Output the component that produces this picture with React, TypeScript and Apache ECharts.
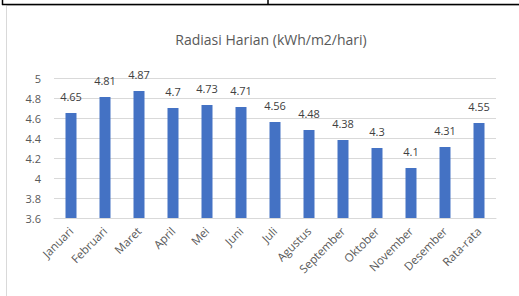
import React, { useEffect, useRef } from "react";
import * as echarts from "echarts";

const categories = ["Januari", "Februari", "Maret", "April", "Mei", "Juni", "Juli", "Agustus", "September", "Oktober", "November", "Desember", "Rata-rata"];
const radiasi = [4.65, 4.81, 4.87, 4.7, 4.73, 4.71, 4.56, 4.48, 4.38, 4.3, 4.1, 4.31, 4.55];
const chartTitle = "Radiasi Harian (kWh/m2/hari)";

export default function App() {
  const ref = useRef<HTMLDivElement>(null);
  useEffect(() => {
    const chart = echarts.init(ref.current!, null, { renderer: "svg" });
    chart.setOption({
      animation: false,
      backgroundColor: "#ffffff",
      textStyle: { fontFamily: "'Open Sans', 'Liberation Sans', sans-serif" },
      title: {
        text: chartTitle,
        left: 266,
        textAlign: "center",
        top: 27,
        textStyle: { fontSize: 14, fontWeight: "normal", color: "#595959" },
      },
      graphic: [
        { type: "rect", shape: { x: 6.5, y: 5.5, width: 600, height: 400 }, style: { fill: "none", stroke: "#d9d9d9", lineWidth: 1 }, silent: true },
        { type: "line", shape: { x1: 2.5, y1: 0, x2: 2.5, y2: 5 }, style: { stroke: "#000", lineWidth: 1.5 } },
        { type: "line", shape: { x1: 268, y1: 0, x2: 268, y2: 5 }, style: { stroke: "#000", lineWidth: 1.5 } },
        { type: "line", shape: { x1: 2, y1: 4.5, x2: 519, y2: 4.5 }, style: { stroke: "#000", lineWidth: 1.5 } },
      ],
      grid: { left: 54, right: 23, top: 78, bottom: 78, containLabel: false },
      xAxis: {
        type: "category",
        data: categories,
        axisTick: { show: false },
        axisLine: { lineStyle: { color: "#d9d9d9", width: 1 } },
        axisLabel: { rotate: 45, fontSize: 11.5, color: "#595959", margin: 11, interval: 0 },
      },
      yAxis: {
        type: "value",
        min: 3.6,
        max: 5,
        interval: 0.2,
        axisLine: { show: false },
        axisTick: { show: false },
        axisLabel: { fontSize: 11, color: "#595959", margin: 13, formatter: (v: number) => String(Math.round(v * 10) / 10) },
        splitLine: { lineStyle: { color: "#d9d9d9", width: 1 } },
      },
      series: [
        {
          type: "bar",
          data: radiasi,
          barWidth: 11,
          itemStyle: { color: "#4472C4" },
          label: { show: true, position: "top", distance: 11, fontSize: 11, color: "#404040" },
        },
      ],
    });
    return () => chart.dispose();
  }, []);
  return <div ref={ref} style={{ position: "fixed", left: 0, top: 0, width: 519, height: 296 }} />;
}
